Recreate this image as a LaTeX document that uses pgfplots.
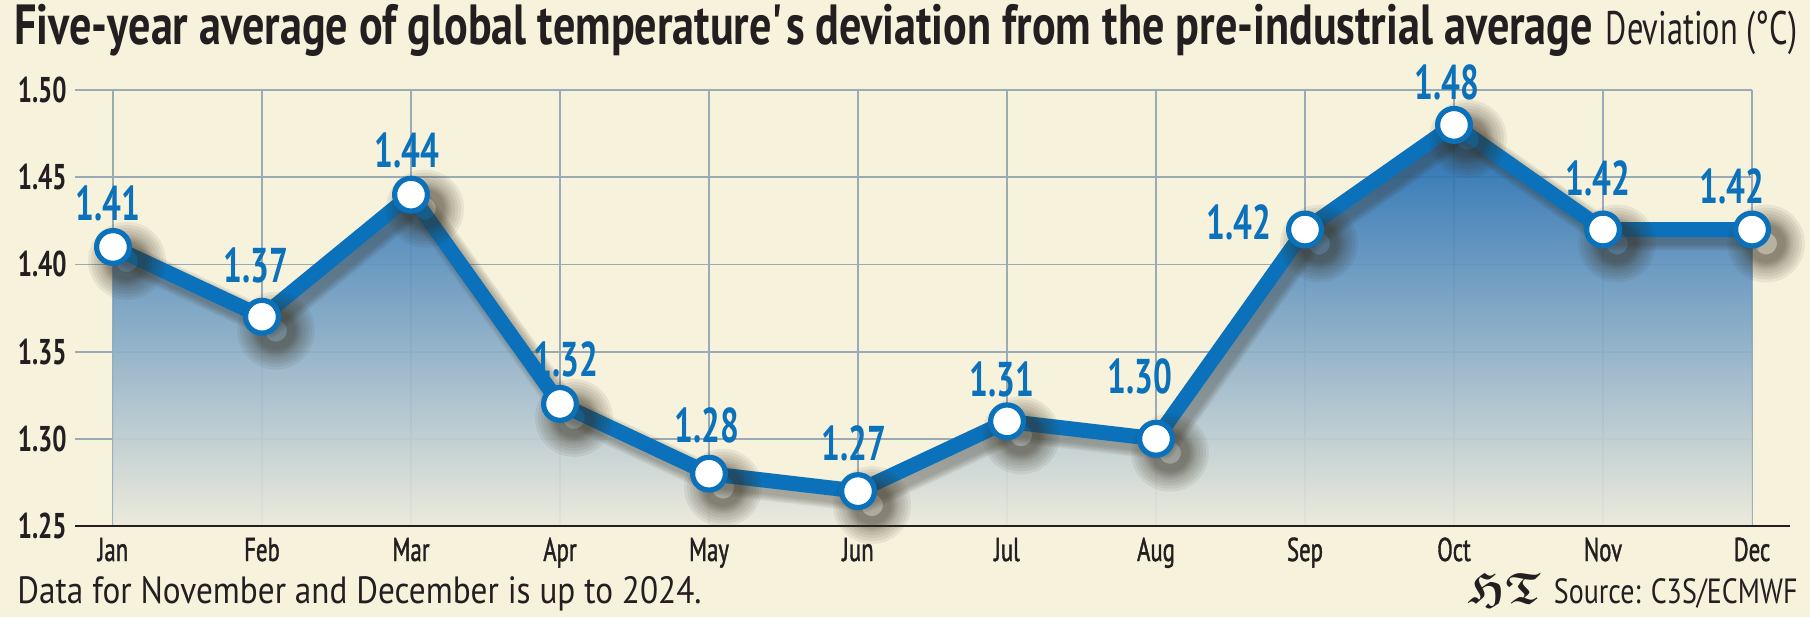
\documentclass[border=0pt]{standalone}
\usepackage{fontspec}
\usepackage{amssymb}
\usepackage{pgfplots}
\usepackage{pgfplotstable}
\pgfplotsset{compat=1.18}
\setmainfont{PT Sans}[FakeStretch=0.78]
\newfontfamily\fdev{PT Sans}[FakeStretch=0.69]
\newfontfamily\fxt{PT Sans}[FakeStretch=0.69, FakeBold=1.2]
\newfontfamily\fyt{PT Sans}[FakeStretch=0.70]
\newfontfamily\fval{PT Sans}[FakeStretch=0.68]
\newfontfamily\ffoot{PT Sans}[FakeStretch=0.875]
\newfontfamily\fsrc{PT Sans}[FakeStretch=0.80]

\definecolor{bg}{HTML}{F6F2DC}
\definecolor{gridc}{HTML}{9AABB6}
\definecolor{lineblue}{HTML}{0A71BA}
\definecolor{ink}{HTML}{231F20}
\definecolor{filltop}{HTML}{1565B0}
\definecolor{fillmid}{HTML}{7D9CCC}
\definecolor{fillbot}{HTML}{ECEADC}
\definecolor{shadowc}{HTML}{3A3222}

% month index, deviation (degC), label offsets (pt)
\pgfplotstableread{
x y dx dy
0 1.41 -2.5 22
1 1.37 -3 25.5
2 1.44 -2 22
3 1.32 3 22.5
4 1.28 -1 24
5 1.27 -2 24
6 1.31 -2.5 21
7 1.30 -8 31
8 1.42 -33 3.5
9 1.48 -3.5 21
10 1.42 -2.5 25.5
11 1.42 -10 21.5
}\temps

% blurred drop shadow: several offset copies of the series
\pgfplotsset{
  shadow layer/.style args={#1/#2}{
    shadowc, opacity=0.075, line width=#1, line join=round,
    transform canvas={xshift=3.5pt, yshift=-3.5pt},
    mark=*, mark size=#2, mark options={draw=none, fill=shadowc}},
}

\begin{document}
\begin{tikzpicture}
\fill[bg] (0,0) rectangle (905pt,308.5pt);
\path[use as bounding box] (0,0) rectangle (905pt,308.5pt);

\node[anchor=base west, inner sep=0pt, text=ink] at (7pt,286pt)
  {{\bfseries\fontsize{28.3}{32}\selectfont Five-year average of global temperature\textquotesingle s deviation from the pre-industrial average}\hspace{6.5pt}{\fdev\fontsize{23.5}{26}\selectfont Deviation (°C)}};

\node[anchor=base west, inner sep=0pt, text=ink] at (8.5pt,7pt)
  {\ffoot\fontsize{19}{21}\selectfont Data for November and December is up to 2024.};
\node[anchor=base east, inner sep=0pt, text=ink] at (899pt,7pt)
  {{\fontsize{22}{24}\selectfont\boldmath$\mathfrak{HT}$}\hspace{7pt}\fsrc\fontsize{17.5}{19}\selectfont Source: C3S/ECMWF};

\begin{axis}[
  at={(37.5pt,45.5pt)}, anchor=south west,
  scale only axis, width=857.5pt, height=218pt,
  xmin=-0.255, xmax=11.255, ymin=1.25, ymax=1.50,
  clip=false,
  axis line style={draw=none},
  major tick length=0pt,
  xtick={0,...,11},
  xticklabels={Jan,Feb,Mar,Apr,May,Jun,Jul,Aug,Sep,Oct,Nov,Dec},
  xticklabel style={anchor=base, inner sep=0pt, yshift=-17.5pt, text=ink, font=\fxt\fontsize{16.5}{18}\selectfont},
  ytick={1.25,1.30,1.35,1.40,1.45,1.50},
  yticklabel style={anchor=east, inner sep=0pt, xshift=-4pt, text=ink, font=\fyt\bfseries\fontsize{17.9}{20}\selectfont},
  /pgf/number format/.cd, fixed, fixed zerofill, precision=2, assume math mode=true,
]
% grid
\pgfplotsinvokeforeach{1.30,1.35,1.40,1.45,1.50}{
  \draw[gridc, line width=0.9pt] (axis cs:-0.255,#1) -- (axis cs:11,#1);
}
\pgfplotsinvokeforeach{0,...,11}{
  \draw[gridc, line width=0.9pt] (axis cs:#1,1.25) -- (axis cs:#1,1.50);
}
% shaded area under the curve
\addplot[draw=none, fill opacity=0.92, top color=filltop, middle color=fillmid, bottom color=fillbot]
  table[x=x,y=y] {\temps} -- (axis cs:11,1.25) -- (axis cs:0,1.25) -- cycle;
% baseline
\draw[ink, line width=1.2pt] (axis cs:-0.255,1.25) -- (axis cs:11.255,1.25);
% shadow
\addplot[shadow layer=14pt/12.5pt] table[x=x,y=y] {\temps};
\addplot[shadow layer=12.5pt/11.75pt] table[x=x,y=y] {\temps};
\addplot[shadow layer=11pt/11pt] table[x=x,y=y] {\temps};
\addplot[shadow layer=9.5pt/10.25pt] table[x=x,y=y] {\temps};
\addplot[shadow layer=8pt/9.5pt] table[x=x,y=y] {\temps};
% main line with markers
\addplot[lineblue, line width=7.5pt, line join=round,
  mark=*, mark size=8.2pt, mark options={draw=lineblue, fill=white, line width=2.6pt}]
  table[x=x,y=y] {\temps};
% value labels
\addplot[draw=none, mark=none, point meta=explicit,
  visualization depends on={\thisrow{dx}\as\dx},
  visualization depends on={\thisrow{dy}\as\dy},
  nodes near coords={\pgfmathprintnumber[fixed,fixed zerofill,precision=2,assume math mode=true]{\pgfplotspointmeta}},
  nodes near coords style={anchor=center, inner sep=0pt, xshift=\dx pt, yshift=\dy pt,
    text=lineblue, font=\fval\bfseries\fontsize{24.4}{26}\selectfont}]
  table[x=x,y=y,meta=y] {\temps};
\end{axis}
\end{tikzpicture}
\end{document}
